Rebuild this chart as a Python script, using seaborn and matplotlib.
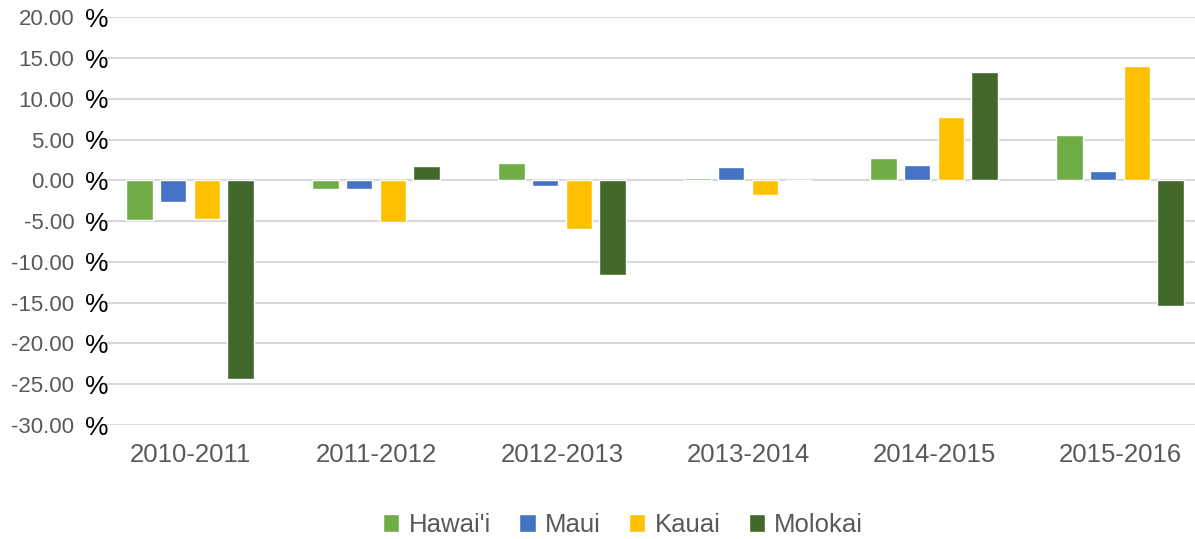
import pandas as pd
import matplotlib
matplotlib.use("Agg")
import matplotlib.pyplot as plt
import seaborn as sns

sns.set_style("white")
plt.rcParams['font.family'] = ['Liberation Sans', 'DejaVu Sans']

periods = ['2010-2011', '2011-2012', '2012-2013', '2013-2014', '2014-2015', '2015-2016']
islands = ["Hawai'i", 'Maui', 'Kauai', 'Molokai']
hawaii = [-4.9, -1.1, 2.1, 0.3, 2.7, 5.55]
maui = [-2.65, -1.1, -0.65, 1.65, 1.9, 1.2]
kauai = [-4.7, -5.1, -5.95, -1.85, 7.8, 14.0]
molokai = [-24.3, 1.8, -11.65, 0.0, 13.25, -15.4]
colors = ['#70AD47', '#4472C4', '#FFC000', '#43682B']
yticks = [20, 15, 10, 5, 0, -5, -10, -15, -20, -25, -30]

rows = []
for name, vals in zip(islands, [hawaii, maui, kauai, molokai]):
    for p, v in zip(periods, vals):
        rows.append({'period': p, 'island': name, 'change': v})
d = pd.DataFrame(rows)

fig = plt.figure(figsize=(11.95, 5.39), dpi=100)
ax = fig.add_axes([105 / 1195, 1 - 425 / 539, 1090 / 1195, (425 - 17.3) / 539])

sns.barplot(data=d, x='period', y='change', hue='island', order=periods,
            hue_order=islands, palette=colors, width=0.725, gap=0.21,
            saturation=1, errorbar=None, ax=ax, legend=True)

ax.set_ylim(-30, 20)
ax.set_xlim(-0.457, 5.403)
ax.set_yticks(yticks)
ax.set_yticklabels([f'{v:.2f}' for v in yticks], color='#595959', fontsize=16)
ax.tick_params(axis='y', length=0, pad=22)
ax.tick_params(axis='x', length=0, pad=13, labelsize=18.5, labelcolor='#595959')
ax.yaxis.grid(True, color='#D9D9D9', linewidth=1.5)
ax.set_axisbelow(True)
for s in ax.spines.values():
    s.set_visible(False)
ax.set_xlabel('')
ax.set_ylabel('')

# the % signs sit apart from the numbers, in black
for v in yticks:
    ax.text(-0.0075, v, '%', transform=ax.get_yaxis_transform(), ha='center',
            va='center_baseline', fontsize=19, color='black')

ax.legend_.remove()
handles, labels = ax.get_legend_handles_labels()
fig.legend(handles, labels, loc='center', bbox_to_anchor=(623 / 1195, 1 - 525 / 539),
           ncol=4, frameon=False, fontsize=18.5, labelcolor='#595959',
           handlelength=0.65, handleheight=0.65, handletextpad=0.35, columnspacing=1.1)

fig.savefig('out.png', dpi=100)
